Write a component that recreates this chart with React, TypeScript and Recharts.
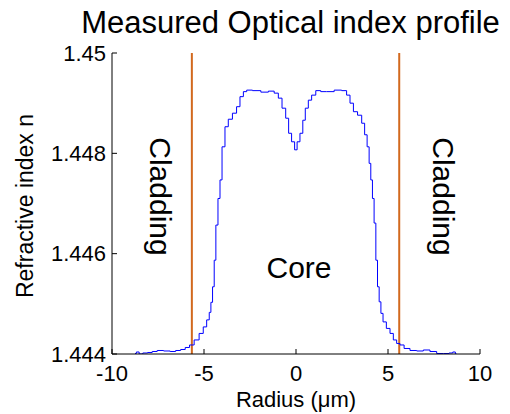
import { LineChart, Line, XAxis, YAxis, ReferenceLine } from 'recharts';

const radius = [
  -8.75, -8.6, -8.45, -8.2, -7.93, -7.7, -7.39, -7.0, -6.68, -6.4, -6.14, -5.9, -5.67, -5.4, -5.13,
  -4.95, -4.76, -4.67, -4.58, -4.49, -4.4, -4.31, -4.17, -4.09, -3.95, -3.77, -3.59, -3.32, -3.14,
  -2.95, -2.77, -2.59, -2.14, -1.68, -1.32, -1.05, -0.87, -0.65, -0.47, -0.33, -0.15, 0, 0.12, 0.31,
  0.43, 0.58, 0.76, 0.94, 1.21, 1.48, 1.85, 2.3, 2.66, 2.84, 3.03, 3.21, 3.48, 3.66, 3.8, 3.93, 4.02,
  4.11, 4.2, 4.29, 4.39, 4.47, 4.57, 4.66, 4.8, 5.02, 5.2, 5.38, 5.56, 5.74, 6.01, 6.38, 6.74, 7.1,
  7.46, 7.83, 8.19, 8.45, 8.59, 8.73,
];

const index = [
  1.44401, 1.44404, 1.444, 1.44402, 1.44403, 1.44405, 1.44407, 1.44406, 1.44405, 1.44407, 1.44409,
  1.44413, 1.44418, 1.44428, 1.44441, 1.44454, 1.44468, 1.44483, 1.44503, 1.44534, 1.44587, 1.44657,
  1.4471, 1.44747, 1.44813, 1.44853, 1.44868, 1.4488, 1.44893, 1.44913, 1.44923, 1.44926, 1.44925,
  1.44922, 1.44924, 1.4492, 1.4491, 1.4489, 1.4487, 1.4484, 1.44823, 1.44807, 1.44823, 1.4484,
  1.44866, 1.4489, 1.44906, 1.44916, 1.44925, 1.44923, 1.44923, 1.44926, 1.44925, 1.44916, 1.449,
  1.44883, 1.44876, 1.4486, 1.44837, 1.44813, 1.4478, 1.44747, 1.4471, 1.44661, 1.44587, 1.44534,
  1.44504, 1.44481, 1.44464, 1.44451, 1.44441, 1.44428, 1.44421, 1.44418, 1.44411, 1.44407, 1.44406,
  1.44408, 1.44405, 1.44401, 1.44401, 1.44402, 1.44404, 1.444,
];

const xTicks = [-10, -5, 0, 5, 10];
const yTicks = [1.444, 1.446, 1.448, 1.45];
const claddingEdges = [-5.66, 5.61];

const data = radius.map((r, i) => ({ r, n: index[i] }));

const FONT = 'Liberation Sans, Arial, sans-serif';

const BottomTick = ({ x, y, payload }: any) => (
  <g>
    <line x1={x} x2={x} y1={y} y2={y - 5} stroke="#000" />
    <text x={x} y={y + 27} textAnchor="middle" fontSize={22} fontFamily={FONT} fill="#000">
      {payload.value}
    </text>
  </g>
);

const TopTick = ({ x, y }: any) => <line x1={x} x2={x} y1={y} y2={y + 5} stroke="#000" />;

const LeftTick = ({ x, y, payload }: any) => (
  <g>
    <line x1={x} x2={x + 5} y1={y} y2={y} stroke="#000" />
    <text x={x - 6} y={y + 7.5} textAnchor="end" fontSize={22} fontFamily={FONT} fill="#000">
      {String(payload.value)}
    </text>
  </g>
);

const RightTick = ({ x, y }: any) => <line x1={x} x2={x - 5} y1={y} y2={y} stroke="#000" />;

export default function App() {
  return (
    <div style={{ position: 'absolute', left: 0, top: 0, background: '#fff' }}>
      <LineChart width={510} height={414} data={data} margin={{ top: 53, right: 30, bottom: 0, left: 0 }}>
        <XAxis
          xAxisId="b"
          dataKey="r"
          type="number"
          domain={[-10, 10]}
          ticks={xTicks}
          height={60}
          tickSize={0}
          tickMargin={0}
          tickLine={false}
          axisLine={{ stroke: '#000' }}
          tick={<BottomTick />}
          allowDataOverflow
        />
        <XAxis
          xAxisId="t"
          orientation="top"
          dataKey="r"
          type="number"
          domain={[-10, 10]}
          ticks={xTicks}
          height={0}
          tickSize={0}
          tickMargin={0}
          tickLine={false}
          axisLine={{ stroke: '#000' }}
          tick={<TopTick />}
          allowDataOverflow
        />
        <YAxis
          yAxisId="l"
          type="number"
          domain={[1.444, 1.45]}
          ticks={yTicks}
          width={112}
          tickSize={0}
          tickMargin={0}
          tickLine={false}
          axisLine={{ stroke: '#000' }}
          tick={<LeftTick />}
          allowDataOverflow
        />
        <YAxis
          yAxisId="r"
          orientation="right"
          type="number"
          domain={[1.444, 1.45]}
          ticks={yTicks}
          width={0}
          tickSize={0}
          tickMargin={0}
          tickLine={false}
          axisLine={{ stroke: '#000' }}
          tick={<RightTick />}
          allowDataOverflow
        />
        {claddingEdges.map((e) => (
          <ReferenceLine key={e} x={e} xAxisId="b" yAxisId="l" stroke="#d2691e" strokeWidth={2} />
        ))}
        <Line
          xAxisId="b"
          yAxisId="l"
          dataKey="n"
          type="step"
          stroke="#0000ff"
          strokeWidth={1}
          dot={false}
          isAnimationActive={false}
        />
        <text x={290.5} y={33} textAnchor="middle" fontSize={31} fontFamily={FONT} fill="#000">
          Measured Optical index profile
        </text>
        <text x={296} y={407} textAnchor="middle" fontSize={22} fontFamily={FONT} fill="#000">
          Radius (μm)
        </text>
        <text
          x={33}
          y={206}
          textAnchor="middle"
          fontSize={23}
          fontFamily={FONT}
          fill="#000"
          transform="rotate(-90 33 206)"
        >
          Refractive index n
        </text>
        <text
          x={150}
          y={196.5}
          textAnchor="middle"
          fontSize={30}
          fontFamily={FONT}
          fill="#000"
          transform="rotate(90 150 196.5)"
        >
          Cladding
        </text>
        <text
          x={433}
          y={196.5}
          textAnchor="middle"
          fontSize={30}
          fontFamily={FONT}
          fill="#000"
          transform="rotate(90 433 196.5)"
        >
          Cladding
        </text>
        <text x={299} y={278} textAnchor="middle" fontSize={30} fontFamily={FONT} fill="#000">
          Core
        </text>
      </LineChart>
    </div>
  );
}
